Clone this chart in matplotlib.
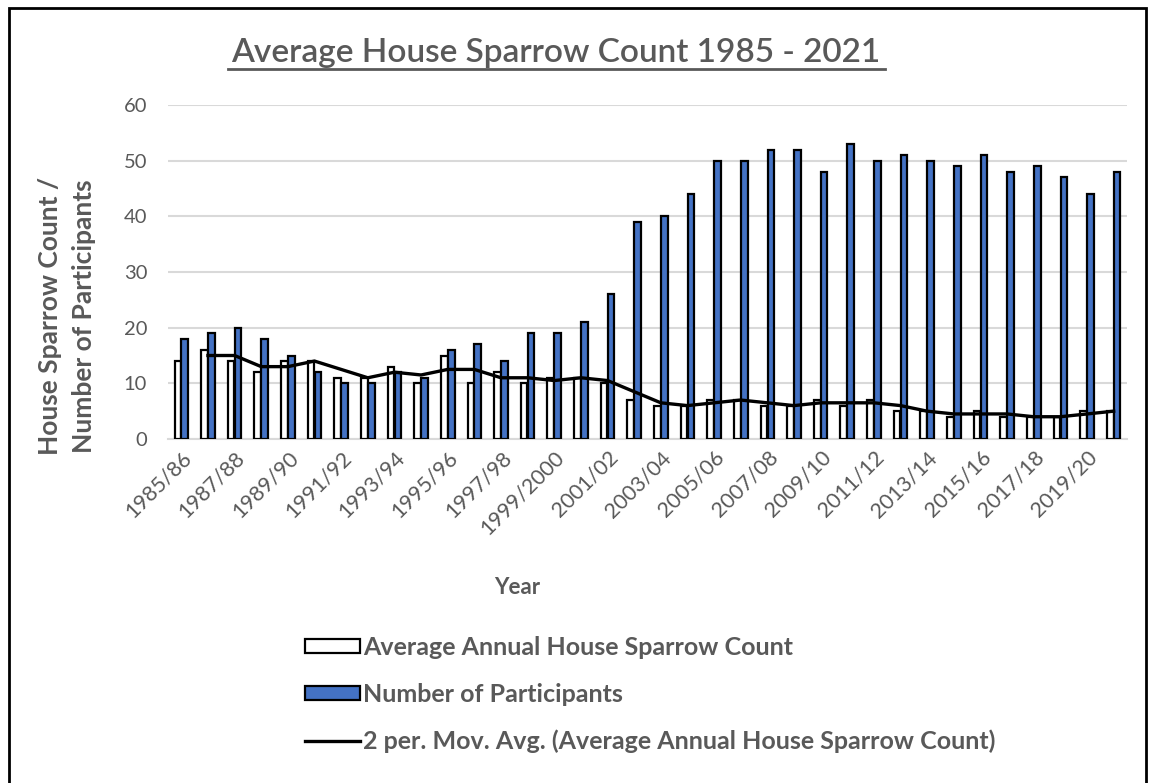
import numpy as np
import matplotlib
matplotlib.use("Agg")
import matplotlib.pyplot as plt
from matplotlib.patches import Rectangle
from matplotlib.lines import Line2D

plt.rcParams['font.family'] = ['Lato', 'DejaVu Sans']

years = ['1985/86', '1986/87', '1987/88', '1988/89', '1989/90', '1990/91',
         '1991/92', '1992/93', '1993/94', '1994/95', '1995/96', '1996/97',
         '1997/98', '1998/99', '1999/2000', '2000/01', '2001/02', '2002/03',
         '2003/04', '2004/05', '2005/06', '2006/07', '2007/08', '2008/09',
         '2009/10', '2010/11', '2011/12', '2012/13', '2013/14', '2014/15',
         '2015/16', '2016/17', '2017/18', '2018/19', '2019/20', '2020/21']
sparrows = [14, 16, 14, 12, 14, 14, 11, 11, 13, 10, 15, 10,
            12, 10, 11, 11, 10, 7, 6, 6, 7, 7, 6, 6,
            7, 6, 7, 5, 5, 4, 5, 4, 4, 4, 5, 5]
participants = [18, 19, 20, 18, 15, 12, 10, 10, 12, 11, 16, 17,
                14, 19, 19, 21, 26, 39, 40, 44, 50, 50, 52, 52,
                48, 53, 50, 51, 50, 49, 51, 48, 49, 47, 44, 48]

grey = '#595959'
blue = '#4472C4'

fig = plt.figure(figsize=(11.54, 7.83), dpi=100)
ax = fig.add_axes([168/1154, 1 - 439/783, (1127 - 168)/1154, (439 - 105)/783])

x = np.arange(len(years))
w = 0.25
ax.bar(x - 0.13, sparrows, w, color='white', edgecolor='black', linewidth=1.6, zorder=3)
ax.bar(x + 0.13, participants, w, color=blue, edgecolor='black', linewidth=1.6, zorder=3)

# 2 period moving average
s = np.array(sparrows, dtype=float)
ma = (s[1:] + s[:-1]) / 2
ax.plot(x[1:], ma, color='black', linewidth=2.4, zorder=4)

ax.set_xlim(-0.5, len(years) - 0.5)
ax.set_ylim(0, 60)
ax.set_yticks(range(0, 61, 10))
ax.yaxis.grid(True, color='#D9D9D9', linewidth=1.5, zorder=0)
ax.set_axisbelow(True)
for sp in ['top', 'right', 'left']:
    ax.spines[sp].set_visible(False)
ax.spines['bottom'].set_color('#D9D9D9')
ax.spines['bottom'].set_linewidth(1.5)
ax.tick_params(axis='both', length=0, colors=grey, labelsize=14.5)
ax.tick_params(axis='x', labelsize=15.5, pad=6)
ax.tick_params(axis='y', pad=15)
ax.set_xticks(x[::2])
ax.set_xticklabels(years[::2], rotation=45, ha='right', rotation_mode='anchor')

fig.text(67/1154, 1 - 316/783, 'House Sparrow Count /\nNumber of Participants',
         rotation=90, ha='center', va='center', fontsize=19, fontweight='bold',
         color=grey, linespacing=1.45)
fig.text(517/1154, 1 - 588/783, 'Year', ha='center', va='center',
         fontsize=16, fontweight='bold', color=grey)
fig.text(556/1154, 1 - 53/783, 'Average House Sparrow Count 1985 - 2021',
         ha='center', va='center', fontsize=24, fontweight='semibold', color=grey)
fig.add_artist(Line2D([228/1154, 885/1154], [1 - 69/783, 1 - 69/783],
                      color=grey, linewidth=2))

handles = [Rectangle((0, 0), 1, 1, facecolor='white', edgecolor='black', linewidth=1.6),
           Rectangle((0, 0), 1, 1, facecolor=blue, edgecolor='black', linewidth=1.6),
           Line2D([], [], color='black', linewidth=2.4)]
labels = ['Average Annual House Sparrow Count', 'Number of Participants',
          '2 per. Mov. Avg. (Average Annual House Sparrow Count)']
leg = fig.legend(handles, labels, loc='upper left', bbox_to_anchor=(305/1154, 1 - 636/783),
                 frameon=False, borderpad=0, borderaxespad=0,
                 handlelength=2.2, handleheight=0.5, handletextpad=0.12,
                 labelspacing=0.95, prop={'size': 18, 'weight': 'bold'})
for t in leg.get_texts():
    t.set_color(grey)

# outer border
fig.add_artist(Rectangle((9/1154, -0.05), (1146 - 9)/1154, 1.05 - 8/783,
                         fill=False, edgecolor='black', linewidth=2))

fig.savefig('out.png', dpi=100)
